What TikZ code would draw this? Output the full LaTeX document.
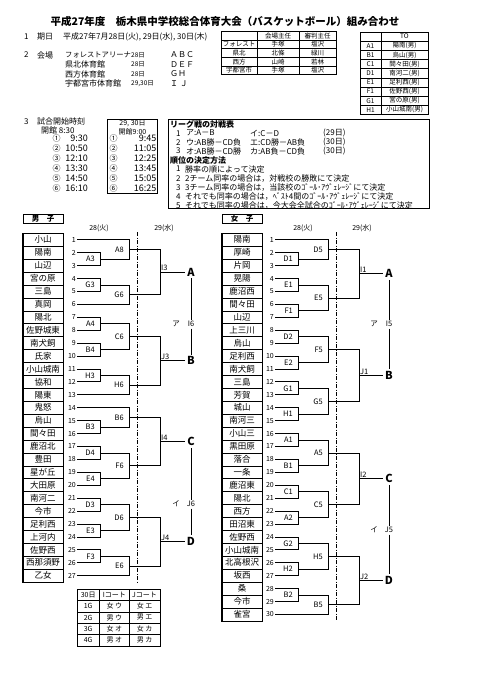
\documentclass[tikz,border=0pt]{standalone}
\usepackage{fontspec}
\setmainfont{Noto Sans CJK JP}
\usetikzlibrary{calc}

\newcommand{\sz}[1]{\fontsize{#1}{#1}\selectfont}

\tikzset{
  bline/.style={line width=0.8pt},
  team/.style={draw, line width=0.6pt, minimum width=40pt, minimum height=12.92pt, inner sep=0pt, font=\sz{8.5}},
  num/.style={anchor=east, inner xsep=1pt, inner ysep=0pt, font=\sz{7}},
  mlbl/.style={anchor=east, inner sep=1pt, font=\sz{7.5}},
  flbl/.style={anchor=south west, inner sep=1pt, font=\sz{7.5}},
  pool/.style={font=\bfseries\sz{11}, inner sep=2pt},
  vsl/.style={font=\sz{7.5}, inner sep=1.5pt},
  txt/.style={anchor=west, inner sep=0pt, font=\sz{8}},
  cell/.style={line width=0.5pt},
  tcell/.style={inner sep=0pt, font=\sz{6.5}},
  dday/.style={font=\sz{7}},
  courtline/.style={dash pattern=on 4pt off 1.5pt on 1pt off 1.5pt, line width=0.8pt},
  sexbox/.style={draw, line width=0.8pt, minimum width=40pt, minimum height=8.3pt, inner sep=0pt, font=\bfseries\sz{7.5}},
}

% first and second round: two inputs joined at a vertical line
\newcommand{\bmatch}[5]{%
  \draw[bline] (#1) -- (#1 -| #3) -- (#2 -| #3) -- (#2);
  \coordinate (#4) at ($(#1 -| #3)!.5!(#2 -| #3)$);
  \node[mlbl] (#4l) at ([xshift=-4pt]#4) {#5};
}
% third round: winner goes to the pool letter
\newcommand{\bfinal}[7]{%
  \draw[bline] (#1) -- (#1 -| #3) -- (#2 -| #3) -- (#2);
  \coordinate (#4) at ($(#1 -| #3)!.5!(#2 -| #3)$);
  \node[flbl] (#4l) at (#4) {#5};
  \node[pool] (#4p) at ([xshift=#7]#4) {#6};
  \draw[bline] (#4) -- (#4p.west);
}

\begin{document}
\begin{tikzpicture}[x=1pt,y=-1pt]
  \useasboundingbox (0,0) rectangle (481,680);
  \fill[white] (0,0) rectangle (481,680);
  % Title
  \node[font=\bfseries\sz{10.5}] (title) at (225,21) {平成27年度　栃木県中学校総合体育大会（バスケットボール）組み合わせ};
  % 1 dates
  \node[txt] (s1) at (24,37) {1};
  \node[txt] (s1a) at (37,37) {期日};
  \node[txt] (s1b) at (63,37) {平成27年7月28日(火), 29日(水), 30日(木)};
  % 2 venues
  \node[txt] (s2) at (24,55) {2};
  \node[txt] (s2a) at (37,55) {会場};
  \foreach \v/\d/\c/\yy [count=\i] in {{\sz{7.3}フォレストアリーナ}/28日/ＡＢＣ/55, 県北体育館/28日/ＤＥＦ/64.5, 西方体育館/28日/ＧＨ/74, 宇都宮市体育館/{29,30日}/Ｉ Ｊ/83.5} {
    \node[txt] (ven\i) at (65,\yy) {\v};
    \node[txt, font=\sz{6.5}] (vday\i) at (131,\yy) {\d};
    \node[txt] (vcrt\i) at (170,\yy) {\c};
  }
  % venue staff table
  \foreach \a/\b/\c [count=\r from 0] in {{}/会場主任/審判主任, フォレスト/手塚/塩沢, 県北/北條/緑川, 西方/山崎/若林, 宇都宮市/手塚/塩沢} {
    \draw[cell] (221,{31.5+8.6*\r}) rectangle (257,{40.1+8.6*\r});
    \draw[cell] (257,{31.5+8.6*\r}) rectangle (299,{40.1+8.6*\r});
    \draw[cell] (299,{31.5+8.6*\r}) rectangle (336,{40.1+8.6*\r});
    \node[tcell] (va\r) at (239,{35.8+8.6*\r}) {\a};
    \node[tcell] (vb\r) at (278,{35.8+8.6*\r}) {\b};
    \node[tcell] (vc\r) at (317.5,{35.8+8.6*\r}) {\c};
  }
  % TO table
  \foreach \a/\b [count=\r from 0] in {{}/TO, A1/陽南(男), B1/烏山(男), C1/間々田(男), D1/南河二(男), E1/足利西(男), F1/佐野西(男), G1/宮の原(男), H1/小山城南(男)} {
    \draw[cell] (360,{32+9.15*\r}) rectangle (381,{41.15+9.15*\r});
    \draw[cell] (381,{32+9.15*\r}) rectangle (428,{41.15+9.15*\r});
    \node[tcell] (toa\r) at (370.5,{36.6+9.15*\r}) {\a};
    \node[tcell] (tob\r) at (404.5,{36.6+9.15*\r}) {\b};
  }
  % 3 start times
  \node[txt] (s3) at (24,121.5) {3};
  \node[txt] (s3a) at (37,121.5) {試合開始時刻};
  \node[txt] (open1) at (41,130.5) {開館 8:30};
  \draw[cell] (107.3,119) rectangle (157.7,193);
  \node[font=\sz{7}, inner sep=0pt] (open2a) at (132.5,123) {29, 30日};
  \node[font=\sz{7}, inner sep=0pt] (open2b) at (132.5,131.5) {開館9:00};
  \foreach \c/\t/\u [count=\i] in {①/9:30/9:45, ②/10:50/11:05, ③/12:10/12:25, ④/13:30/13:45, ⑤/14:50/15:05, ⑥/16:10/16:25} {
    \node[font=\sz{8}, inner sep=0pt] (ta\i) at (56.5,{128.8+9.95*\i}) {\c};
    \node[font=\sz{9}, inner sep=0pt, anchor=east] (tb\i) at (88,{128.8+9.95*\i}) {\t};
    \node[font=\sz{8}, inner sep=0pt] (tc\i) at (113.5,{128.8+9.95*\i}) {\c};
    \node[font=\sz{9}, inner sep=0pt, anchor=east] (td\i) at (156.5,{128.8+9.95*\i}) {\u};
  }
  % League box
  \draw[line width=0.8pt] (168,119) rectangle (429,208.5);
  \node[txt, font=\bfseries\sz{8}] (lg0) at (170,124.5) {リーグ戦の対戦表};
  \foreach \a/\b/\c [count=\i] in {ア:A－B/イ:C－D/(29日), ウ:AB勝－CD負/エ:CD勝－AB負/(30日), オ:AB勝－CD勝/カ:AB負－CD負/(30日)} {
    \node[txt] (lgn\i) at (176,{124.3+8.9*\i}) {\i};
    \node[txt] (lga\i) at (186,{124.3+8.9*\i}) {\a};
    \node[txt] (lgb\i) at (250,{124.3+8.9*\i}) {\b};
    \node[txt] (lgc\i) at (323,{124.3+8.9*\i}) {\c};
  }
  \node[txt, font=\bfseries\sz{8}] (rk0) at (170,160) {順位の決定方法};
  \foreach \a [count=\i] in {勝率の順によって決定, 2チーム同率の場合は，対戦校の勝敗にて決定, 3チーム同率の場合は，当該校のｺﾞｰﾙ･ｱｳﾞｪﾚｰｼﾞにて決定, それでも同率の場合は，ﾍﾞｽﾄ4間のｺﾞｰﾙ･ｱｳﾞｪﾚｰｼﾞにて決定, それでも同率の場合は，今大会全試合のｺﾞｰﾙ･ｱｳﾞｪﾚｰｼﾞにて決定} {
    \node[txt] (rkn\i) at (176,{160+9.1*\i}) {\i};
    \node[txt] (rka\i) at (185,{160+9.1*\i}) {\a};
  }
  % Boys
  \node[sexbox] (boys) at (43,219) {男　子};
  \node[dday] (bd1) at (99,228) {28(火)};
  \node[dday] (bd2) at (164,228) {29(水)};
  \foreach \t [count=\i] in {小山,陽南,山辺,宮の原,三島,真岡,陽北,佐野城東,南犬飼,氏家,小山城南,協和,陽東,鬼怒,烏山,間々田,鹿沼北,豊田,星が丘,大田原,南河二,今市,足利西,上河内,佐野西,西那須野,乙女} {
    \node[team] (bt\i) at (43,{226.84+12.92*\i}) {\t};
    \node[num] (bn\i) at (77,{226.84+12.92*\i}) {\i};
  }
  \draw[line width=0.9pt] (bt1.north west) rectangle (bt27.south east);
  \coordinate (bx1) at (100,0);
  \coordinate (bx2) at (129,0);
  \coordinate (bx3) at (160,0);
  \draw[courtline] (137.7,232) -- (137.7,582);
  % pool A
  \bmatch{bn2.east}{bn3.east}{bx1}{bA3}{A3}
  \bmatch{bn1.east}{bA3}{bx2}{bA8}{A8}
  \bmatch{bn4.east}{bn5.east}{bx1}{bG3}{G3}
  \bmatch{bG3}{bn6.east}{bx2}{bG6}{G6}
  \bfinal{bA8}{bG6}{bx3}{bI3}{I3}{A}{31pt}
  % pool B
  \bmatch{bn7.east}{bn8.east}{bx1}{bA4}{A4}
  \bmatch{bn9.east}{bn10.east}{bx1}{bB4}{B4}
  \bmatch{bA4}{bB4}{bx2}{bC6}{C6}
  \bmatch{bn11.east}{bn12.east}{bx1}{bH3}{H3}
  \bmatch{bH3}{bn13.east}{bx2}{bH6}{H6}
  \bfinal{bC6}{bH6}{bx3}{bJ3}{J3}{B}{31pt}
  % pool C
  \bmatch{bn15.east}{bn16.east}{bx1}{bB3}{B3}
  \bmatch{bn14.east}{bB3}{bx2}{bB6}{B6}
  \bmatch{bn17.east}{bn18.east}{bx1}{bD4}{D4}
  \bmatch{bn19.east}{bn20.east}{bx1}{bE4}{E4}
  \bmatch{bD4}{bE4}{bx2}{bF6}{F6}
  \bfinal{bB6}{bF6}{bx3}{bI4}{I4}{C}{31pt}
  % pool D
  \bmatch{bn21.east}{bn22.east}{bx1}{bD3}{D3}
  \bmatch{bn23.east}{bn24.east}{bx1}{bE3}{E3}
  \bmatch{bD3}{bE3}{bx2}{bD6}{D6}
  \bmatch{bn25.east}{bn26.east}{bx1}{bF3}{F3}
  \bmatch{bF3}{bn27.east}{bx2}{bE6}{E6}
  \bfinal{bD6}{bE6}{bx3}{bJ4}{J4}{D}{31pt}
  % league games
  \node[vsl] (bk1) at (191,324) {I6};
  \node[vsl] (bk1n) at (176,324) {ア};
  \draw[bline] (bI3p.south) -- (bk1.north);
  \draw[bline] (bk1.south) -- (bJ3p.north);
  \node[vsl] (bk2) at (191,504) {J6};
  \node[vsl] (bk2n) at (176,504) {イ};
  \draw[bline] (bI4p.south) -- (bk2.north);
  \draw[bline] (bk2.south) -- (bJ4p.north);
  % Girls
  \node[sexbox] (girls) at (242,219) {女　子};
  \node[dday] (gd1) at (303,228) {28(火)};
  \node[dday] (gd2) at (362,228) {29(水)};
  \foreach \t [count=\i] in {陽南,厚崎,片岡,晃陽,鹿沼西,間々田,山辺,上三川,烏山,足利西,南犬飼,三島,芳賀,城山,南河三,小山三,黒田原,落合,一条,鹿沼東,陽北,西方,田沼東,佐野西,小山城南,北高根沢,坂西,桑,今市,雀宮} {
    \node[team] (gt\i) at (242,{226.84+12.92*\i}) {\t};
    \node[num] (gn\i) at (275,{226.84+12.92*\i}) {\i};
  }
  \draw[line width=0.9pt] (gt1.north west) rectangle (gt30.south east);
  \coordinate (gx1) at (298,0);
  \coordinate (gx2) at (328,0);
  \coordinate (gx3) at (359,0);
  \draw[courtline] (336.7,232) -- (336.7,621);
  % pool A
  \bmatch{gn2.east}{gn3.east}{gx1}{gD1}{D1}
  \bmatch{gn1.east}{gD1}{gx2}{gD5}{D5}
  \bmatch{gn4.east}{gn5.east}{gx1}{gE1}{E1}
  \bmatch{gn6.east}{gn7.east}{gx1}{gF1}{F1}
  \bmatch{gE1}{gF1}{gx2}{gE5}{E5}
  \bfinal{gD5}{gE5}{gx3}{gI1}{I1}{A}{30pt}
  % pool B
  \bmatch{gn8.east}{gn9.east}{gx1}{gD2}{D2}
  \bmatch{gn10.east}{gn11.east}{gx1}{gE2}{E2}
  \bmatch{gD2}{gE2}{gx2}{gF5}{F5}
  \bmatch{gn12.east}{gn13.east}{gx1}{gG1}{G1}
  \bmatch{gn14.east}{gn15.east}{gx1}{gH1}{H1}
  \bmatch{gG1}{gH1}{gx2}{gG5}{G5}
  \bfinal{gF5}{gG5}{gx3}{gJ1}{J1}{B}{30pt}
  % pool C
  \bmatch{gn16.east}{gn17.east}{gx1}{gA1}{A1}
  \bmatch{gn18.east}{gn19.east}{gx1}{gB1}{B1}
  \bmatch{gA1}{gB1}{gx2}{gA5}{A5}
  \bmatch{gn20.east}{gn21.east}{gx1}{gC1}{C1}
  \bmatch{gn22.east}{gn23.east}{gx1}{gA2}{A2}
  \bmatch{gC1}{gA2}{gx2}{gC5}{C5}
  \bfinal{gA5}{gC5}{gx3}{gI2}{I2}{C}{30pt}
  % pool D
  \bmatch{gn24.east}{gn25.east}{gx1}{gG2}{G2}
  \bmatch{gn26.east}{gn27.east}{gx1}{gH2}{H2}
  \bmatch{gG2}{gH2}{gx2}{gH5}{H5}
  \bmatch{gn28.east}{gn29.east}{gx1}{gB2}{B2}
  \bmatch{gB2}{gn30.east}{gx2}{gB5}{B5}
  \bfinal{gH5}{gB5}{gx3}{gJ2}{J2}{D}{30pt}
  % league games
  \node[vsl] (gk1) at (389,324) {I5};
  \node[vsl] (gk1n) at (374,324) {ア};
  \draw[bline] (gI1p.south) -- (gk1.north);
  \draw[bline] (gk1.south) -- (gJ1p.north);
  \node[vsl] (gk2) at (389,530) {J5};
  \node[vsl] (gk2n) at (374,530) {イ};
  \draw[bline] (gI2p.south) -- (gk2.north);
  \draw[bline] (gk2.south) -- (gJ2p.north);
  % 30th schedule table
  \foreach \a/\b/\c [count=\r from 0] in {30日/Iコート/Jコート, 1G/女 ウ/女 エ, 2G/男 ウ/男 エ, 3G/女 オ/女 カ, 4G/男 オ/男 カ} {
    \draw[cell] (77,{589+11.4*\r}) rectangle (99.3,{600.4+11.4*\r});
    \draw[cell] (99.3,{589+11.4*\r}) rectangle (129.3,{600.4+11.4*\r});
    \draw[cell] (129.3,{589+11.4*\r}) rectangle (160,{600.4+11.4*\r});
    \node[tcell, font=\sz{7}] (sa\r) at (88.2,{594.7+11.4*\r}) {\a};
    \node[tcell, font=\sz{7}] (sb\r) at (114.3,{594.7+11.4*\r}) {\b};
    \node[tcell, font=\sz{7}] (sc\r) at (144.6,{594.7+11.4*\r}) {\c};
  }
  \draw[line width=0.9pt] (77,589) rectangle (160,646);
\end{tikzpicture}
\end{document}
